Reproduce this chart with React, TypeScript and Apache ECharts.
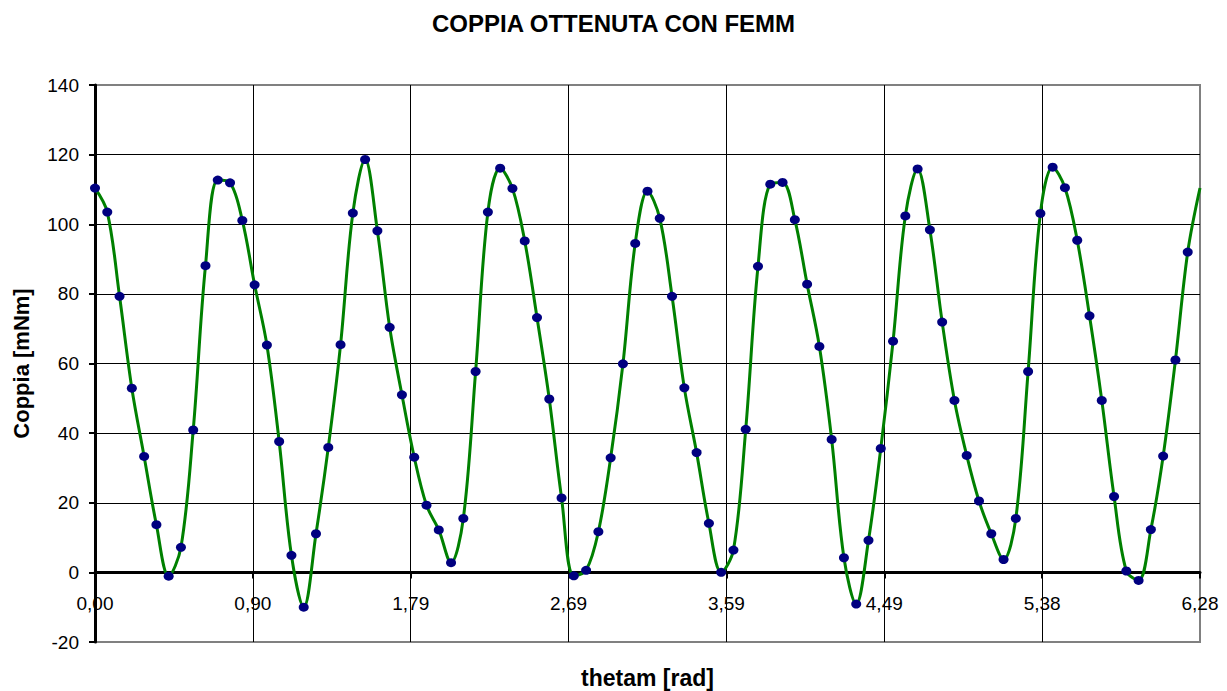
import React, { useEffect, useRef } from 'react';
import * as echarts from 'echarts';

const TITLE = 'COPPIA OTTENUTA CON FEMM';
const X_NAME = 'thetam [rad]';
const Y_NAME = 'Coppia [mNm]';

// angle (rad), one reading every 4 degrees
const THETA = [
  0.0000, 0.0698, 0.1396, 0.2094, 0.2793, 0.3491, 0.4189, 0.4887, 0.5585, 0.6283,
  0.6981, 0.7679, 0.8378, 0.9076, 0.9774, 1.0472, 1.1170, 1.1868, 1.2566, 1.3265,
  1.3963, 1.4661, 1.5359, 1.6057, 1.6755, 1.7453, 1.8151, 1.8850, 1.9548, 2.0246,
  2.0944, 2.1642, 2.2340, 2.3038, 2.3736, 2.4435, 2.5133, 2.5831, 2.6529, 2.7227,
  2.7925, 2.8623, 2.9322, 3.0020, 3.0718, 3.1416, 3.2114, 3.2812, 3.3510, 3.4208,
  3.4907, 3.5605, 3.6303, 3.7001, 3.7699, 3.8397, 3.9095, 3.9794, 4.0492, 4.1190,
  4.1888, 4.2586, 4.3284, 4.3982, 4.4680, 4.5379, 4.6077, 4.6775, 4.7473, 4.8171,
  4.8869, 4.9567, 5.0265, 5.0964, 5.1662, 5.2360, 5.3058, 5.3756, 5.4454, 5.5152,
  5.5851, 5.6549, 5.7247, 5.7945, 5.8643, 5.9341, 6.0039, 6.0737, 6.1436, 6.2134,
  6.2832,
];

// torque (mNm)
const COPPIA = [
  110.4, 103.5, 79.3, 52.9, 33.3, 13.7, -1.1, 7.2, 40.9, 88.1,
  112.7, 111.9, 101.1, 82.6, 65.3, 37.6, 4.9, -10.0, 11.1, 35.9,
  65.4, 103.2, 118.6, 98.1, 70.4, 51.0, 33.1, 19.3, 12.2, 2.8,
  15.5, 57.7, 103.5, 116.1, 110.3, 95.2, 73.2, 49.8, 21.4, -1.0,
  0.6, 11.7, 32.9, 59.9, 94.5, 109.5, 101.7, 79.3, 53.0, 34.4,
  14.1, 0.0, 6.4, 41.1, 87.9, 111.5, 112.0, 101.3, 82.8, 64.9,
  38.2, 4.2, -9.1, 9.2, 35.6, 66.4, 102.4, 115.9, 98.4, 71.9,
  49.4, 33.6, 20.5, 11.1, 3.7, 15.5, 57.7, 103.1, 116.4, 110.5,
  95.4, 73.7, 49.4, 21.8, 0.4, -2.3, 12.3, 33.4, 61.0, 92.0,
  110.4,
];

const X_TICK_LABELS = ['0,00', '0,90', '1,79', '2,69', '3,59', '4,49', '5,38', '6,28'];
const Y_MIN = -20;
const Y_MAX = 140;
const Y_STEP = 20;

const FONT = '"Liberation Sans", Arial, sans-serif';

export default function App() {
  const ref = useRef<HTMLDivElement>(null);

  useEffect(() => {
    document.body.style.margin = '0';
    const chart = echarts.init(ref.current!, null, { renderer: 'svg' });
    const xMax = THETA[THETA.length - 1];
    const xStep = xMax / (X_TICK_LABELS.length - 1);

    const data = THETA.map((t, i) =>
      i === THETA.length - 1
        ? { value: [t, COPPIA[i]], symbol: 'none' }
        : { value: [t, COPPIA[i]] }
    );

    const xCommon = {
      type: 'value',
      min: 0,
      max: xMax,
      interval: xStep,
    };

    chart.setOption({
      animation: false,
      backgroundColor: '#ffffff',
      textStyle: { fontFamily: FONT },
      title: {
        text: TITLE,
        left: 'center',
        top: 6,
        textStyle: { fontFamily: FONT, fontSize: 24, fontWeight: 'bold', color: '#000' },
      },
      grid: {
        left: 95,
        right: 27,
        top: 85,
        bottom: 49,
        show: true,
        borderColor: '#808080',
        borderWidth: 2,
        backgroundColor: 'transparent',
        outerBoundsMode: 'none',
        containLabel: false,
      },
      xAxis: [
        {
          ...xCommon,
          position: 'bottom',
          name: X_NAME,
          nameLocation: 'middle',
          nameGap: 24,
          nameTextStyle: { fontFamily: FONT, fontSize: 23, fontWeight: 'bold', color: '#000' },
          axisLine: { show: false, onZero: false },
          axisTick: { show: false },
          axisLabel: {
            fontFamily: FONT,
            fontSize: 19,
            color: '#000',
            margin: -48,
            verticalAlign: 'top',
            hideOverlap: true,
            formatter: (v: number) => X_TICK_LABELS[Math.round(v / xStep)] ?? '',
          },
          splitLine: {
            show: true,
            showMinLine: false,
            showMaxLine: false,
            lineStyle: { color: '#000', width: 1 },
          },
        },
        {
          ...xCommon,
          position: 'top',
          axisLine: { show: true, onZero: true, onZeroAxisIndex: 0, lineStyle: { color: '#000', width: 3 } },
          axisTick: { show: true, inside: true, length: 6, lineStyle: { color: '#000', width: 2 } },
          axisLabel: { show: false },
          splitLine: { show: false },
        },
      ],
      yAxis: {
        type: 'value',
        min: Y_MIN,
        max: Y_MAX,
        interval: Y_STEP,
        name: Y_NAME,
        nameLocation: 'middle',
        nameGap: 63,
        nameTextStyle: { fontFamily: FONT, fontSize: 22, fontWeight: 'bold', color: '#000' },
        axisLine: { show: true, onZero: false, lineStyle: { color: '#000', width: 3 } },
        axisTick: { show: true, length: 6, lineStyle: { color: '#000', width: 2 } },
        axisLabel: { fontFamily: FONT, fontSize: 19, color: '#000', margin: 16 },
        splitLine: {
          show: true,
          showMinLine: false,
          showMaxLine: false,
          lineStyle: { color: '#000', width: 1 },
        },
      },
      series: [
        {
          type: 'line',
          data,
          xAxisIndex: 0,
          smooth: 0.35,
          symbol: 'circle',
          symbolSize: [10, 9],
          showAllSymbol: true,
          clip: false,
          itemStyle: { color: '#000080', borderWidth: 0 },
          lineStyle: { color: '#008000', width: 3 },
        },
      ],
    });

    return () => chart.dispose();
  }, []);

  return <div ref={ref} style={{ width: 1227, height: 691 }} />;
}
